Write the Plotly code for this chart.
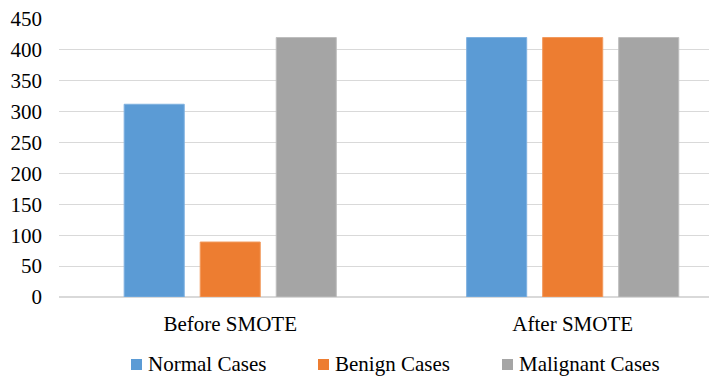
import plotly.graph_objects as go

# Class counts before and after SMOTE oversampling
stages = ["Before SMOTE", "After SMOTE"]
normal_cases = [312, 420]
benign_cases = [89, 420]
malignant_cases = [420, 420]

series_names = ["Normal Cases", "Benign Cases", "Malignant Cases"]
series_values = [normal_cases, benign_cases, malignant_cases]
fill_colors = ["#5B9BD5", "#ED7D31", "#A5A5A5"]
edge_colors = ["#7FB1E0", "#F29A5E", "#BDBDBD"]

FONT = "Times New Roman, Liberation Serif, serif"
W, H = 709, 376
L, R, T, B = 59, 0, 19, 79          # plot-area margins in px
PW, PH = W - L - R, H - T - B


def px_x(px):
    return (px - L) / PW


def px_y(py):
    return (H - B - py) / PH


fig = go.Figure()
for name, vals, color, edge in zip(series_names, series_values, fill_colors, edge_colors):
    fig.add_trace(go.Bar(
        x=stages, y=vals, name=name,
        marker=dict(color=color, line=dict(color=edge, width=1)),
        showlegend=False,
    ))

# Legend row: swatch + label, laid out in pixel space below the axis
legend_swatch_left = [131, 318, 502]
swatch = 11
for x0, name, color in zip(legend_swatch_left, series_names, fill_colors):
    fig.add_shape(
        type="rect", xref="paper", yref="paper",
        x0=px_x(x0), x1=px_x(x0 + swatch),
        y0=px_y(359 + swatch), y1=px_y(359),
        fillcolor=color, line=dict(width=0),
    )
    fig.add_annotation(
        xref="paper", yref="paper", x=px_x(x0 + swatch + 4), y=px_y(364),
        xanchor="left", yanchor="middle", showarrow=False,
        text=name, font=dict(family=FONT, size=21, color="#000000"),
    )

fig.update_layout(
    width=W, height=H,
    margin=dict(l=L, r=R, t=T, b=B, autoexpand=False),
    paper_bgcolor="white", plot_bgcolor="white",
    barmode="group", bargap=0.334, bargroupgap=0.21,
    font=dict(family=FONT, size=21, color="#000000"),
    showlegend=False,
)
fig.update_xaxes(
    type="category", range=[-0.5, 1.398],
    showgrid=False, showline=False, ticks="",
    ticklabelstandoff=12, automargin=False,
    tickfont=dict(family=FONT, size=21, color="#000000"),
)
fig.update_yaxes(
    range=[0, 450], dtick=50, tick0=0,
    showgrid=True, gridcolor="#D9D9D9", gridwidth=1,
    zeroline=True, zerolinecolor="#D9D9D9", zerolinewidth=1.5,
    showline=False, ticks="", ticklabelstandoff=16, automargin=False,
    tickfont=dict(family=FONT, size=21, color="#000000"),
)

fig.write_html("out.html")
